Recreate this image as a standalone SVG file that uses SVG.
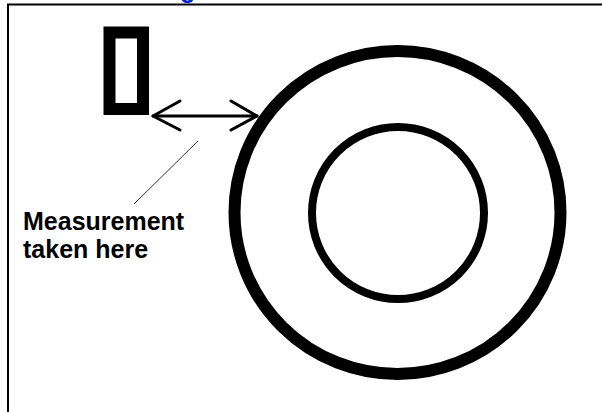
<svg xmlns="http://www.w3.org/2000/svg" width="602" height="412" viewBox="0 0 602 412">
  <defs>
    <style>
      .frame { stroke: #000; stroke-width: 2; fill: none; }
      .thick { stroke: #000; fill: none; }
      .lbl { font-family: "Liberation Sans", Arial, sans-serif; font-weight: bold; font-size: 25px; fill: #000; }
      .link { font-family: "Liberation Sans", Arial, sans-serif; font-weight: bold; font-size: 25px; fill: #0022dd; }
      .arrow { stroke: #000; stroke-width: 3; fill: none; stroke-linecap: round; stroke-linejoin: round; }
      .leader { stroke: #333; stroke-width: 1; fill: none; }
    </style>
  </defs>
  <rect width="602" height="412" fill="#fff"/>
  <text class="link" x="180" y="-2">g</text>
  <g id="frame">
    <path class="frame" d="M8 412 V4.5 H602"/>
  </g>
  <g id="sensor">
    <rect class="thick" x="109.5" y="32.5" width="33.5" height="76.5" stroke-width="12"/>
  </g>
  <g id="ring">
    <ellipse class="thick" cx="397.5" cy="212.5" rx="163" ry="161.5" stroke-width="12"/>
    <circle class="thick" cx="398" cy="213" r="86" stroke-width="8"/>
  </g>
  <g id="connectors">
    <path class="arrow" d="M153 116 H257"/>
    <path class="arrow" d="M180 101 L153 116 L180 130"/>
    <path class="arrow" d="M231 101 L257 116 L231 130"/>
    <path class="leader" d="M198 141 L134 204"/>
  </g>
  <g id="label">
    <text class="lbl" x="23" y="230">Measurement</text>
    <text class="lbl" x="23" y="258">taken here</text>
  </g>
</svg>
